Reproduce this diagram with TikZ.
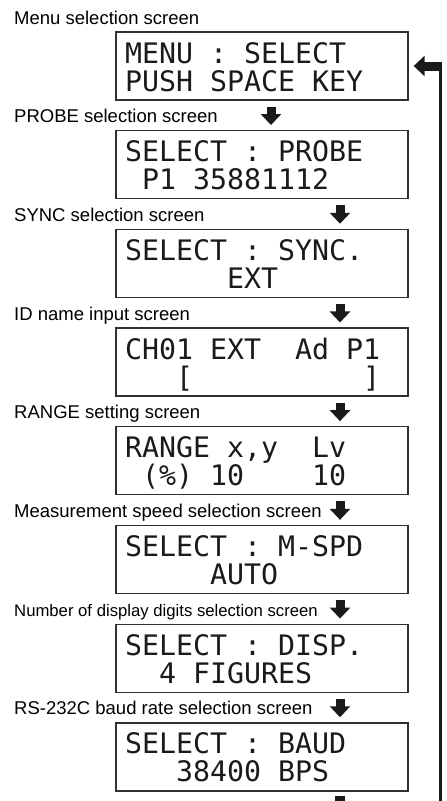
\documentclass[tikz,border=0pt]{standalone}
\usepackage{fontspec}
\setmainfont{Liberation Sans}
\newfontfamily\lcdfont{DejaVu Sans Mono}
\usepackage{tikz}
\usetikzlibrary{arrows.meta,positioning,calc}
\definecolor{lcdInk}{HTML}{1A1A1A}
\definecolor{lcdFrame}{HTML}{303030}

\begin{document}
\begin{tikzpicture}[
  x=1pt,y=1pt,
  screen/.style={draw=lcdFrame,line width=1.3pt,minimum width=292pt,
                 minimum height=68pt,inner sep=0pt},
  lcd/.style={font=\lcdfont\fontsize{28.24}{30}\selectfont,anchor=base west,
              inner sep=0pt,text=lcdInk},
  caption/.style={font=\fontsize{18.5}{22}\selectfont,anchor=base west,inner sep=0pt},
  flow/.style={-{Triangle[length=11pt,width=20pt]},line width=9pt,lcdInk},
  back/.style={-{Triangle[length=11pt,width=20pt]},line width=9pt,lcdInk},
  loopline/.style={line width=3pt,lcdInk},
  stub/.style={line width=10pt,lcdInk}
]
\useasboundingbox (0,0) rectangle (447,-801);

% Screens
\node[screen] (menu)   at (262,-66)    {};
\node[screen] (probe)  at (262,-164.7) {};
\node[screen] (sync)   at (262,-263.4) {};
\node[screen] (idname) at (262,-362.1) {};
\node[screen] (range)  at (262,-460.8) {};
\node[screen] (mspd)   at (262,-559.5) {};
\node[screen] (disp)   at (262,-658.2) {};
\node[screen] (baud)   at (262,-756.9) {};

% Screen captions
\node[caption] (menuCap)   at (14,-24)    {Menu selection screen};
\node[caption] (probeCap)  at (14,-122.7) {PROBE selection screen};
\node[caption] (syncCap)   at (14,-221.4) {SYNC selection screen};
\node[caption] (idnameCap) at (14,-320.1) {ID name input screen};
\node[caption] (rangeCap)  at (14,-418.8) {RANGE setting screen};
\node[caption] (mspdCap)   at (14,-517.5) {Measurement speed selection screen};
\node[caption,font=\fontsize{16.7}{20}\selectfont] (dispCap) at (14,-616.2)
  {Number of display digits selection screen};
\node[caption] (baudCap)   at (14,-714.9) {RS-232C baud rate selection screen};

% LCD lines (column pitch 17pt)
\node[lcd] (menuA)   at (125,-63)    {MENU : SELECT};
\node[lcd] (menuB)   at (125,-91)    {PUSH SPACE KEY};
\node[lcd] (probeA)  at (125,-161.7) {SELECT : PROBE};
\node[lcd] (probeB)  at (142,-189.7) {P1 35881112};
\node[lcd] (syncA)   at (125,-260.4) {SELECT : SYNC.};
\node[lcd] (syncB)   at (227,-288.4) {EXT};
\node[lcd] (idnameA) at (125,-359.1) {CH01 EXT~~Ad P1};
\node[lcd] (idnameB) at (176,-387.1) {[~~~~~~~~~~]};
\node[lcd] (rangeA)  at (125,-457.8) {RANGE x,y~~Lv};
\node[lcd] (rangeB)  at (142,-485.8) {(\%) 10~~~~10};
\node[lcd] (mspdA)   at (125,-556.5) {SELECT : M-SPD};
\node[lcd] (mspdB)   at (210,-584.5) {AUTO};
\node[lcd] (dispA)   at (125,-655.2) {SELECT : DISP.};
\node[lcd] (dispB)   at (159,-683.2) {4 FIGURES};
\node[lcd] (baudA)   at (125,-753.9) {SELECT : BAUD};
\node[lcd] (baudB)   at (176,-781.9) {38400 BPS};

% Step arrows
\draw[flow] ([xshift=9pt,yshift=-6pt]menu.south)    -- ([xshift=9pt,yshift=5pt]probe.north);
\draw[flow] ([xshift=78pt,yshift=-6pt]probe.south)  -- ([xshift=78pt,yshift=5pt]sync.north);
\draw[flow] ([xshift=78pt,yshift=-6pt]sync.south)   -- ([xshift=78pt,yshift=5pt]idname.north);
\draw[flow] ([xshift=78pt,yshift=-6pt]idname.south) -- ([xshift=78pt,yshift=5pt]range.north);
\draw[flow] ([xshift=78pt,yshift=-6pt]range.south)  -- ([xshift=78pt,yshift=5pt]mspd.north);
\draw[flow] ([xshift=78pt,yshift=-6pt]mspd.south)   -- ([xshift=78pt,yshift=5pt]disp.north);
\draw[flow] ([xshift=78pt,yshift=-6pt]disp.south)   -- ([xshift=78pt,yshift=5pt]baud.north);

% Return loop to menu
\coordinate (loopbot)    at (440,-801);
\coordinate (loopcorner) at (440,-66);
\draw[loopline] (loopbot) -- (loopcorner);
\draw[back] ([xshift=1.5pt]loopcorner) -- ([xshift=5pt]menu.east);
\draw[stub] ([xshift=78pt,yshift=-4pt]baud.south) -- ([xshift=78pt]baud.south |- loopbot);
\end{tikzpicture}
\end{document}
